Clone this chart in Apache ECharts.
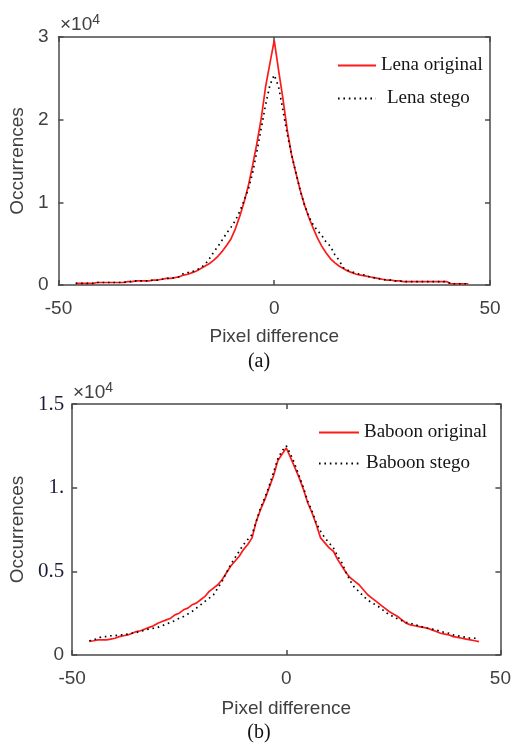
<!DOCTYPE html>
<html><head><meta charset="utf-8">
<script src="https://cdn.jsdelivr.net/npm/echarts@6/dist/echarts.min.js"></script>
<style>html,body{margin:0;padding:0;background:#fff}#c{width:514px;height:743px}</style>
</head><body><div id="c"></div>
<script>
// Pixel difference values (x)
const pixelDiff = [-46,-45,-44,-43,-42,-41,-40,-39,-38,-37,-36,-35,-34,-33,-32,-31,-30,-29,-28,-27,-26,-25,-24,-23,-22,-21,-20,-19,-18,-17,-16,-15,-14,-13,-12,-11,-10,-9,-8,-7,-6,-5,-4,-3,-2,-1,0,1,2,3,4,5,6,7,8,9,10,11,12,13,14,15,16,17,18,19,20,21,22,23,24,25,26,27,28,29,30,31,32,33,34,35,36,37,38,39,40,41,42,43,44,45];

// Occurrences (x10^4)
const lenaOriginal = [0.02,0.02,0.02,0.02,0.02,0.03,0.03,0.03,0.03,0.03,0.03,0.03,0.04,0.04,0.05,0.05,0.05,0.05,0.06,0.06,0.07,0.08,0.08,0.09,0.10,0.12,0.13,0.15,0.17,0.20,0.23,0.26,0.30,0.35,0.41,0.48,0.56,0.68,0.83,1.00,1.20,1.45,1.72,2.02,2.40,2.68,2.96,2.60,2.26,1.88,1.58,1.36,1.15,0.97,0.82,0.69,0.57,0.47,0.39,0.32,0.27,0.23,0.20,0.17,0.15,0.13,0.12,0.11,0.10,0.09,0.08,0.07,0.06,0.06,0.05,0.05,0.04,0.04,0.04,0.04,0.04,0.04,0.04,0.04,0.04,0.04,0.04,0.015,0.015,0.015,0.015,0.015];
const lenaStego = [0.02,0.02,0.02,0.02,0.02,0.03,0.03,0.03,0.03,0.03,0.03,0.03,0.04,0.04,0.05,0.05,0.05,0.05,0.06,0.06,0.07,0.08,0.08,0.09,0.10,0.14,0.15,0.16,0.18,0.21,0.25,0.32,0.40,0.47,0.55,0.63,0.70,0.78,0.89,1.02,1.16,1.36,1.62,1.90,2.18,2.42,2.54,2.40,2.12,1.83,1.58,1.36,1.15,0.97,0.83,0.73,0.66,0.60,0.52,0.47,0.37,0.30,0.21,0.18,0.16,0.14,0.13,0.12,0.10,0.09,0.08,0.07,0.06,0.06,0.05,0.05,0.04,0.04,0.04,0.04,0.04,0.04,0.04,0.04,0.04,0.04,0.04,0.015,0.015,0.015,0.015,0.015];
const baboonOriginal = [0.081,0.085,0.09,0.09,0.09,0.095,0.10,0.11,0.115,0.12,0.13,0.14,0.145,0.155,0.165,0.175,0.19,0.20,0.21,0.22,0.24,0.25,0.27,0.28,0.30,0.31,0.33,0.35,0.38,0.40,0.42,0.45,0.49,0.53,0.56,0.59,0.63,0.66,0.70,0.80,0.87,0.93,1.00,1.07,1.16,1.20,1.237,1.18,1.12,1.06,0.99,0.91,0.85,0.78,0.70,0.67,0.64,0.62,0.57,0.53,0.49,0.46,0.44,0.42,0.39,0.36,0.34,0.32,0.30,0.28,0.26,0.245,0.23,0.21,0.19,0.18,0.175,0.17,0.165,0.16,0.15,0.14,0.13,0.125,0.12,0.11,0.105,0.10,0.095,0.09,0.085,0.08];
const baboonStego = [0.085,0.09,0.10,0.11,0.11,0.115,0.115,0.12,0.12,0.125,0.13,0.135,0.14,0.15,0.155,0.16,0.165,0.175,0.185,0.195,0.205,0.22,0.23,0.245,0.26,0.28,0.30,0.32,0.34,0.36,0.40,0.44,0.49,0.54,0.58,0.62,0.66,0.69,0.72,0.80,0.88,0.94,1.01,1.09,1.17,1.22,1.25,1.20,1.14,1.07,1.00,0.92,0.86,0.79,0.74,0.70,0.67,0.64,0.59,0.55,0.49,0.44,0.40,0.38,0.35,0.33,0.31,0.30,0.28,0.26,0.24,0.23,0.215,0.205,0.195,0.19,0.18,0.175,0.165,0.16,0.155,0.15,0.14,0.135,0.13,0.12,0.115,0.11,0.105,0.10,0.10,0.095];

const xTickLabels = ['-50','0','50'];
const lenaYTickLabels = ['0','1','2','3'];
const baboonYTickLabels = ['0','0.5','1.','1.5'];
const lenaNames = ['Lena original','Lena stego'];
const baboonNames = ['Baboon original','Baboon stego'];

const pairs = arr => pixelDiff.map((x, i) => [x, arr[i]]);

const axisCol = '#4a4a4a';
const textCol = '#404040';
const lineSt = {color: axisCol, width: 1.5};
const sans = 'Liberation Sans';
const serif = 'Liberation Serif';

function xMain(g, gap) {
  return {gridIndex: g, type: 'value', min: -50, max: 50, interval: 50, position: 'bottom',
    axisLine: {show: true, onZero: false, lineStyle: lineSt},
    axisTick: {show: true, inside: true, length: 5, lineStyle: lineSt},
    axisLabel: {margin: 14, color: textCol, fontSize: 19, fontFamily: sans,
      formatter: v => xTickLabels[(v + 50) / 50]},
    splitLine: {show: false},
    name: 'Pixel difference', nameLocation: 'middle', nameGap: gap,
    nameTextStyle: {color: textCol, fontSize: 19, fontFamily: sans}};
}
function xTop(g) {
  return {gridIndex: g, type: 'value', min: -50, max: 50, interval: 50, position: 'top',
    axisLine: {show: true, onZero: false, lineStyle: lineSt},
    axisTick: {show: true, inside: true, length: 5, lineStyle: lineSt},
    axisLabel: {show: false}, splitLine: {show: false}};
}
function yRight(g, max, interval) {
  return {gridIndex: g, type: 'value', min: 0, max: max, interval: interval, position: 'right',
    axisLine: {show: true, onZero: false, lineStyle: lineSt},
    axisTick: {show: true, inside: true, length: 5, lineStyle: lineSt},
    axisLabel: {show: false}, splitLine: {show: false}};
}

const option = {
  animation: false,
  backgroundColor: '#fff',
  grid: [
    {left: 58, top: 37, width: 432, height: 248},
    {left: 68, top: 404, width: 433, height: 251}
  ],
  xAxis: [xMain(0, 42), xTop(0), xMain(1, 44), xTop(1)],
  yAxis: [
    {gridIndex: 0, type: 'value', min: 0, max: 3, interval: 1,
      axisLine: {show: true, onZero: false, lineStyle: lineSt},
      axisTick: {show: true, inside: true, length: 5, lineStyle: lineSt},
      axisLabel: {margin: 10, color: textCol, fontSize: 19, fontFamily: sans,
        formatter: v => lenaYTickLabels[Math.round(v)]},
      splitLine: {show: false},
      name: 'Occurrences', nameLocation: 'middle', nameGap: 27,
      nameTextStyle: {color: textCol, fontSize: 19, fontFamily: sans}},
    yRight(0, 3, 1),
    {gridIndex: 1, type: 'value', min: 0, max: 1.5, interval: 0.5,
      axisLine: {show: true, onZero: false, lineStyle: lineSt},
      axisTick: {show: true, inside: true, length: 5, lineStyle: lineSt},
      axisLabel: {margin: 8,
        formatter: v => {
          const i = Math.round(v / 0.5);
          return i === 0 ? '{s|' + baboonYTickLabels[i] + '}' : '{t|' + baboonYTickLabels[i] + '}';
        },
        rich: {
          s: {color: textCol, fontSize: 19, fontFamily: sans},
          t: {color: '#1c1c3a', fontSize: 21, fontFamily: serif}
        }},
      splitLine: {show: false},
      name: 'Occurrences', nameLocation: 'middle', nameGap: 41,
      nameTextStyle: {color: textCol, fontSize: 19, fontFamily: sans}},
    yRight(1, 1.5, 0.5)
  ],
  legend: [
    {orient: 'vertical', left: 337, top: 56, padding: 0, itemWidth: 38, itemHeight: 14, itemGap: 14,
      data: lenaNames, itemStyle: {opacity: 0},
      formatter: n => n === lenaNames[1] ? '{i|' + n + '}' : n,
      textStyle: {fontFamily: serif, fontSize: 19, color: '#151515',
        rich: {i: {fontFamily: serif, fontSize: 19, color: '#151515', padding: [0, 0, 0, 6]}}}},
    {orient: 'vertical', left: 318, top: 423, padding: 0, itemWidth: 40, itemHeight: 14, itemGap: 12,
      data: baboonNames, itemStyle: {opacity: 0},
      formatter: n => n === baboonNames[1] ? '{i|' + n + '}' : n,
      textStyle: {fontFamily: serif, fontSize: 19, color: '#151515',
        rich: {i: {fontFamily: serif, fontSize: 19, color: '#151515', padding: [0, 0, 0, 2]}}}}
  ],
  series: [
    {name: lenaNames[0], type: 'line', xAxisIndex: 0, yAxisIndex: 0, data: pairs(lenaOriginal),
      symbol: 'none', showSymbol: false, z: 2, lineStyle: {color: '#ff1a1a', width: 1.7}, itemStyle: {color: '#ff1a1a'}},
    {name: lenaNames[1], type: 'line', xAxisIndex: 0, yAxisIndex: 0, data: pairs(lenaStego),
      symbol: 'none', showSymbol: false, z: 3, lineStyle: {color: '#000', width: 1.7, type: [1.6, 3.8]}, itemStyle: {color: '#000'}},
    {name: baboonNames[0], type: 'line', xAxisIndex: 2, yAxisIndex: 2, data: pairs(baboonOriginal),
      symbol: 'none', showSymbol: false, z: 2, lineStyle: {color: '#ff1a1a', width: 1.7}, itemStyle: {color: '#ff1a1a'}},
    {name: baboonNames[1], type: 'line', xAxisIndex: 2, yAxisIndex: 2, data: pairs(baboonStego),
      symbol: 'none', showSymbol: false, z: 3, lineStyle: {color: '#000', width: 1.7, type: [1.6, 3.8]}, itemStyle: {color: '#000'}}
  ],
  graphic: [
    {type: 'text', left: 60, top: 13, style: {text: '×10{sup|4}', fill: textCol, font: '19px "Liberation Sans"',
      rich: {sup: {fontSize: 14, fontFamily: sans, fill: textCol, verticalAlign: 'top', padding: [0, 0, 9, 0]}}}},
    {type: 'text', left: 73, top: 381, style: {text: '×10{sup|4}', fill: textCol, font: '19px "Liberation Sans"',
      rich: {sup: {fontSize: 14, fontFamily: sans, fill: textCol, verticalAlign: 'top', padding: [0, 0, 9, 0]}}}},
    {type: 'text', x: 259, y: 362, style: {text: '(a)', fill: '#111', font: '20px "Liberation Serif"', align: 'center', verticalAlign: 'middle'}},
    {type: 'text', x: 259, y: 733, style: {text: '(b)', fill: '#111', font: '20px "Liberation Serif"', align: 'center', verticalAlign: 'middle'}}
  ]
};

const chart = echarts.init(document.getElementById('c'), null, {renderer: 'canvas'});
chart.setOption(option);
</script>
</body></html>
